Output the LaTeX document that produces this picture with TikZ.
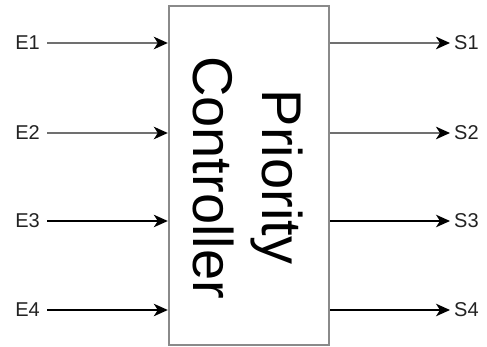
\documentclass[tikz,border=0pt]{standalone}
\usepackage{fontspec}
\setmainfont{Liberation Sans}
\usetikzlibrary{arrows.meta}
\definecolor{boxgray}{HTML}{8A8A8A}
\definecolor{wiregray}{HTML}{707070}
\definecolor{labelink}{HTML}{222222}
\begin{document}
\begin{tikzpicture}[x=1pt,y=-1pt,
  tip/.style={-{Stealth[length=14pt,width=12.5pt,inset=4pt,color=black]}},
  wireA/.style={tip,draw=wiregray,line width=2pt},
  wireB/.style={tip,draw=black,line width=1.4pt},
  portlabel/.style={font=\fontsize{20}{24}\selectfont,text=labelink,inner sep=0pt},
  bigtext/.style={font=\fontsize{56}{67}\selectfont,rotate=-90,anchor=base,inner sep=0pt}]
  \useasboundingbox (0,0) rectangle (487,347);
  % controller block
  \node[draw=boxgray,line width=2.4pt,minimum width=160pt,minimum height=339pt,inner sep=0pt] (ctrl) at (249,175.5) {};
  \node[bigtext] (t1) at (262,177) {Priority};
  \node[bigtext] (t2) at (193,177.5) {Controller};
  % input labels and endpoints
  \node[portlabel,anchor=east] (e1) at (40,43) {E1};
  \node[portlabel,anchor=east] (e2) at (40,133) {E2};
  \node[portlabel,anchor=east] (e3) at (40,221) {E3};
  \node[portlabel,anchor=east] (e4) at (40,310) {E4};
  \node[portlabel,anchor=west] (s1) at (454,43) {S1};
  \node[portlabel,anchor=west] (s2) at (454,133) {S2};
  \node[portlabel,anchor=west] (s3) at (454,221) {S3};
  \node[portlabel,anchor=west] (s4) at (454,310) {S4};
  % input arrows into the block
  \draw[wireA] ([xshift=7pt]e1.east) -- (ctrl.west |- e1.east);
  \draw[wireA] ([xshift=7pt]e2.east) -- (ctrl.west |- e2.east);
  \draw[wireB] ([xshift=7pt]e3.east) -- (ctrl.west |- e3.east);
  \draw[wireB] ([xshift=7pt]e4.east) -- (ctrl.west |- e4.east);
  % output arrows from the block
  \draw[wireA] (ctrl.east |- s1.west) -- ([xshift=-4pt]s1.west);
  \draw[wireA] (ctrl.east |- s2.west) -- ([xshift=-4pt]s2.west);
  \draw[wireB] (ctrl.east |- s3.west) -- ([xshift=-4pt]s3.west);
  \draw[wireB] (ctrl.east |- s4.west) -- ([xshift=-4pt]s4.west);
\end{tikzpicture}
\end{document}
